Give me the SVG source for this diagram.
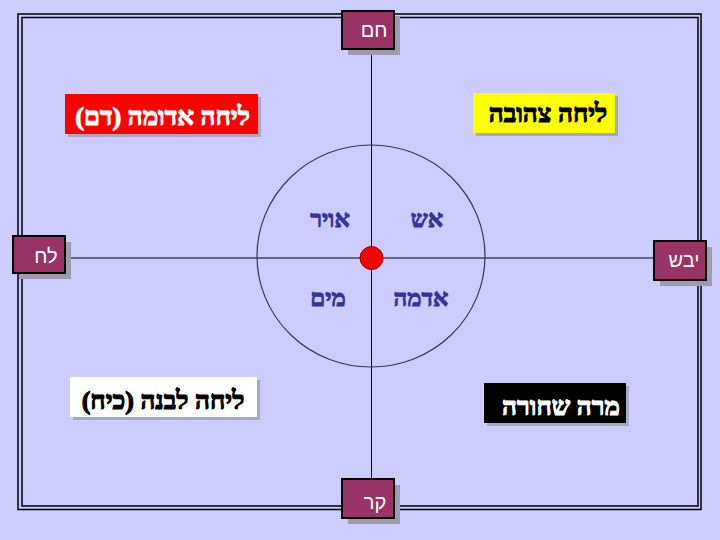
<svg xmlns="http://www.w3.org/2000/svg" width="720" height="540" viewBox="0 0 720 540">
<style>
.frame{fill:none;stroke:#000;stroke-width:1.5}
.conn{stroke:#000;stroke-width:1;fill:none}
.sq{fill:#993366;stroke:#000;stroke-width:2}
.sqsh{fill:#9c9cb0}
.sqt{font-family:"Liberation Sans",Arial,sans-serif;font-size:20px;fill:#fff;text-anchor:middle}
.lab{font-family:"Liberation Serif","Times New Roman",serif;font-weight:bold;font-size:26px;text-anchor:middle;stroke-width:1.1;paint-order:stroke}
.el{font-family:"Liberation Serif","Times New Roman",serif;font-weight:bold;font-size:24px;fill:#333399;stroke:#333399;stroke-width:0.9;text-anchor:middle}
.lsh{fill:#a8a8c4}
</style>
<rect width="720" height="540" fill="#CCCCFF"/>
<rect class="frame" x="18" y="14" width="683" height="495.5"/>
<rect class="frame" x="22" y="17.5" width="676" height="488.5"/>
<g id="connectors">
<line class="conn" x1="371.5" y1="49" x2="371.5" y2="479"/>
<line class="conn" x1="65" y1="258" x2="654" y2="258"/>
</g>
<g id="circle">
<ellipse cx="371" cy="256" rx="114" ry="111" fill="none" stroke="#333366" stroke-width="1.2"/>
</g>
<g id="center-dot">
<circle cx="371.5" cy="258" r="11.5" fill="#FF0000" stroke="#990000" stroke-width="1"/>
</g>
<g id="el-fire"><text class="el" x="427" y="227" direction="rtl">אש</text></g>
<g id="el-air"><text class="el" x="330" y="227" direction="rtl">אויר</text></g>
<g id="el-water"><text class="el" x="328" y="306" direction="rtl">מים</text></g>
<g id="el-earth"><text class="el" x="421" y="306" direction="rtl">אדמה</text></g>
<g id="hot">
<rect class="sqsh" x="348" y="17" width="52" height="38"/>
<rect class="sq" x="342" y="11" width="52" height="38"/>
<text class="sqt" x="374" y="37" direction="rtl">חם</text>
</g>
<g id="cold">
<rect class="sqsh" x="348" y="485" width="52" height="39"/>
<rect class="sq" x="342" y="479" width="52" height="39"/>
<text class="sqt" x="375" y="509" direction="rtl">קר</text>
</g>
<g id="wet">
<rect class="sqsh" x="19" y="242" width="52" height="37"/>
<rect class="sq" x="13" y="236" width="52" height="37"/>
<text class="sqt" x="46" y="263" direction="rtl">לח</text>
</g>
<g id="dry">
<rect class="sqsh" x="660" y="247" width="52" height="39"/>
<rect class="sq" x="654" y="241" width="52" height="39"/>
<text class="sqt" x="684" y="267" direction="rtl">יבש</text>
</g>
<g id="red-bile">
<rect class="lsh" x="68" y="97" width="193" height="40"/>
<rect x="65" y="94" width="193" height="40" fill="#FF0000"/>
<text class="lab" x="162.5" y="125" fill="#fff" stroke="#fff" direction="rtl">ליחה אדומה (דם)</text>
</g>
<g id="yellow-bile">
<rect class="lsh" x="476" y="96" width="142" height="40"/>
<rect x="473" y="93" width="142" height="40" fill="#FFFF00"/>
<text class="lab" x="548" y="122" fill="#000" stroke="#000" direction="rtl">ליחה צהובה</text>
</g>
<g id="white-phlegm">
<rect class="lsh" x="73" y="380" width="187" height="40"/>
<rect x="70" y="377" width="187" height="40" fill="#FFFFFF"/>
<text class="lab" x="163" y="409" fill="#000" stroke="#000" direction="rtl">ליחה לבנה (כיח)</text>
</g>
<g id="black-bile">
<rect class="lsh" x="487" y="386" width="142" height="40"/>
<rect x="484" y="383" width="142" height="40" fill="#000000"/>
<text class="lab" x="561" y="415" fill="#fff" stroke="#fff" direction="rtl">מרה שחורה</text>
</g>
</svg>
